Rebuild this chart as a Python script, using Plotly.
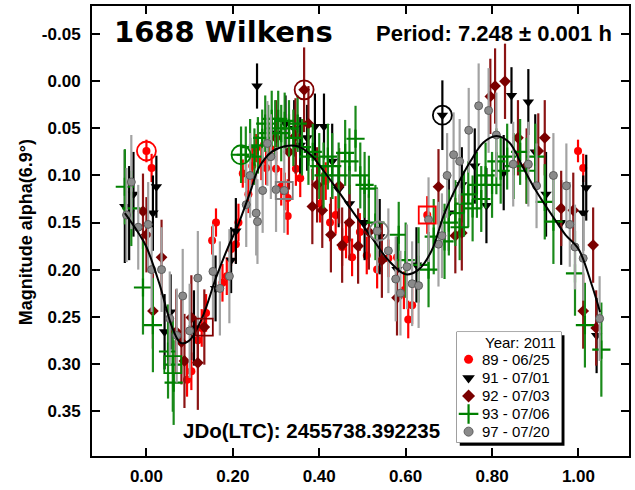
import plotly.graph_objects as go

# ---- lightcurve data: rotational phase, magnitude, 1-sigma error ----
red_phase = [0.000, 0.012, 0.094, 0.104, 0.119, 0.128, 0.138, 0.152, 0.161, 0.176, 0.186, 0.196,
             0.207, 0.213, 0.223, 0.236, 0.245, 0.254, 0.266, 0.277, 0.288, 0.300, 0.312, 0.320,
             0.327, 0.327, 0.346, 0.356, 0.402, 0.415, 0.425, 0.438, 0.453, 0.462, 0.476, 0.494,
             0.510, 0.534, 0.560, 0.580, 0.596, 0.606, 0.615, 0.650, 0.999, 1.011]
red_mag = [0.074, 0.092, 0.317, 0.308, 0.275, 0.262, 0.246, 0.169, 0.150, 0.214, 0.207, 0.178,
           0.173, 0.150, 0.098, 0.120, 0.090, 0.071, 0.085, 0.092, 0.072, 0.093, 0.112, 0.117,
           0.124, 0.143, 0.093, 0.103, 0.130, 0.106, 0.150, 0.142, 0.176, 0.168, 0.187, 0.160,
           0.185, 0.200, 0.188, 0.187, 0.222, 0.253, 0.238, 0.142, 0.074, 0.092]
red_err = [0.012, 0.015, 0.018, 0.020, 0.022, 0.020, 0.020, 0.015, 0.015, 0.020, 0.020, 0.018,
           0.020, 0.020, 0.015, 0.020, 0.020, 0.015, 0.020, 0.018, 0.020, 0.018, 0.020, 0.020,
           0.020, 0.020, 0.018, 0.020, 0.020, 0.020, 0.020, 0.020, 0.020, 0.020, 0.020, 0.020,
           0.020, 0.020, 0.020, 0.020, 0.020, 0.020, 0.020, 0.020, 0.012, 0.015]

black_phase = [-0.050, -0.040, -0.030, 0.015, 0.023, 0.042, 0.056, 0.110, 0.160, 0.196, 0.207,
               0.256, 0.300, 0.322, 0.342, 0.356, 0.372, 0.390, 0.411, 0.430, 0.445, 0.470,
               0.505, 0.540, 0.580, 0.625, 0.685, 0.700, 0.730, 0.760, 0.787, 0.827, 0.845,
               0.884, 0.900, 0.925, 0.960, 1.011, 1.018, 1.042]
black_mag = [0.133, 0.140, 0.120, 0.140, 0.112, 0.266, 0.245, 0.262, 0.220, 0.190, 0.159,
             0.005, 0.055, 0.045, 0.050, 0.068, 0.060, 0.048, 0.048, 0.085, 0.115, 0.130,
             0.150, 0.165, 0.200, 0.195, 0.036, 0.140, 0.110, 0.090, 0.132, 0.097, 0.015,
             0.022, 0.075, 0.120, 0.150, 0.140, 0.113, 0.270]
black_err = [0.060, 0.050, 0.045, 0.040, 0.033, 0.040, 0.040, 0.040, 0.035, 0.035, 0.035,
             0.024, 0.030, 0.030, 0.030, 0.030, 0.035, 0.035, 0.035, 0.040, 0.040, 0.040,
             0.040, 0.040, 0.035, 0.040, 0.037, 0.040, 0.040, 0.040, 0.040, 0.040, 0.030,
             0.035, 0.040, 0.045, 0.045, 0.040, 0.035, 0.040]

dred_phase = [-0.008, 0.000, 0.015, 0.035, 0.069, 0.081, 0.088, 0.104, 0.119, 0.134, 0.300,
              0.330, 0.345, 0.365, 0.375, 0.384, 0.395, 0.407, 0.427, 0.446, 0.453, 0.470,
              0.490, 0.515, 0.545, 0.580, 0.676, 0.715, 0.730, 0.796, 0.807, 0.830, 0.860,
              0.880, 0.907, 0.922, 0.960, 0.988, 1.011, 1.034, 1.041]
dred_mag = [0.138, 0.163, 0.244, 0.187, 0.266, 0.277, 0.297, 0.251, 0.299, 0.261, 0.060,
            0.075, 0.058, 0.009, 0.045, 0.133, 0.110, 0.137, 0.163, 0.111, 0.174, 0.150,
            0.175, 0.160, 0.190, 0.230, 0.112, 0.164, 0.161, 0.016, 0.005, 0.000, 0.060,
            0.090, 0.074, 0.060, 0.135, 0.137, 0.244, 0.174, 0.262]
dred_err = [0.040, 0.040, 0.040, 0.040, 0.045, 0.045, 0.050, 0.045, 0.050, 0.040, 0.040,
            0.040, 0.040, 0.045, 0.040, 0.040, 0.040, 0.040, 0.040, 0.040, 0.040, 0.040,
            0.040, 0.040, 0.040, 0.040, 0.040, 0.040, 0.040, 0.040, 0.040, 0.040, 0.040,
            0.040, 0.040, 0.040, 0.040, 0.040, 0.040, 0.040, 0.040]

green_phase = [-0.050, -0.035, -0.008, 0.015, 0.050, 0.061, 0.063, 0.219, 0.230, 0.240, 0.250,
               0.258, 0.268, 0.275, 0.282, 0.290, 0.298, 0.305, 0.312, 0.320, 0.330, 0.340,
               0.350, 0.360, 0.375, 0.385, 0.400, 0.410, 0.420, 0.430, 0.445, 0.460, 0.470,
               0.484, 0.495, 0.505, 0.515, 0.530, 0.584, 0.600, 0.630, 0.653, 0.665, 0.690,
               0.700, 0.715, 0.725, 0.735, 0.745, 0.755, 0.765, 0.775, 0.785, 0.800, 0.810,
               0.820, 0.835, 0.850, 0.865, 0.880, 0.900, 0.922, 0.942, 0.992, 1.015, 1.053]
green_mag = [0.112, 0.135, 0.219, 0.259, 0.287, 0.301, 0.320, 0.078, 0.078, 0.070, 0.080,
             0.068, 0.060, 0.045, 0.055, 0.040, 0.050, 0.040, 0.055, 0.042, 0.050, 0.060,
             0.045, 0.070, 0.080, 0.075, 0.090, 0.100, 0.080, 0.090, 0.100, 0.076, 0.085,
             0.061, 0.100, 0.110, 0.114, 0.150, 0.163, 0.190, 0.195, 0.200, 0.165, 0.170,
             0.150, 0.140, 0.155, 0.130, 0.120, 0.135, 0.110, 0.125, 0.100, 0.110, 0.085,
             0.095, 0.080, 0.090, 0.075, 0.095, 0.080, 0.128, 0.149, 0.204, 0.259, 0.285]
green_err = [0.040, 0.040, 0.050, 0.050, 0.050, 0.050, 0.045, 0.030, 0.030, 0.030, 0.030,
             0.030, 0.030, 0.030, 0.030, 0.030, 0.030, 0.030, 0.030, 0.030, 0.030, 0.030,
             0.030, 0.030, 0.030, 0.030, 0.035, 0.035, 0.035, 0.035, 0.035, 0.035, 0.035,
             0.035, 0.035, 0.035, 0.035, 0.040, 0.035, 0.040, 0.040, 0.040, 0.040, 0.040,
             0.035, 0.035, 0.035, 0.035, 0.035, 0.035, 0.035, 0.035, 0.035, 0.035, 0.035,
             0.035, 0.035, 0.035, 0.035, 0.035, 0.035, 0.040, 0.045, 0.045, 0.045, 0.050]

gray_phase = [-0.046, -0.035, -0.019, 0.004, 0.012, 0.035, 0.054, 0.070, 0.084, 0.100, 0.119,
              0.154, 0.170, 0.192, 0.231, 0.240, 0.254, 0.257, 0.269, 0.280, 0.288, 0.300,
              0.319, 0.534, 0.560, 0.577, 0.588, 0.603, 0.615, 0.630, 0.653, 0.676, 0.684,
              0.696, 0.711, 0.725, 0.746, 0.769, 0.792, 0.810, 0.849, 0.884, 0.903, 0.942,
              0.972, 0.980, 0.992, 1.011, 1.049]
gray_mag = [0.142, 0.107, 0.155, 0.152, 0.200, 0.200, 0.252, 0.270, 0.228, 0.265, 0.209,
            0.202, 0.220, 0.207, 0.131, 0.100, 0.140, 0.149, 0.116, 0.066, 0.080, 0.115,
            0.116, 0.159, 0.180, 0.210, 0.225, 0.197, 0.215, 0.217, 0.147, 0.173, 0.164,
            0.100, 0.078, 0.085, 0.052, 0.026, 0.031, 0.057, 0.088, 0.088, 0.111, 0.100,
            0.111, 0.152, 0.176, 0.188, 0.252]
gray_err = [0.050, 0.050, 0.045, 0.045, 0.045, 0.045, 0.050, 0.050, 0.050, 0.050, 0.050,
            0.050, 0.050, 0.050, 0.045, 0.045, 0.045, 0.045, 0.045, 0.045, 0.045, 0.045,
            0.045, 0.045, 0.045, 0.045, 0.045, 0.045, 0.045, 0.045, 0.045, 0.045, 0.045,
            0.045, 0.045, 0.045, 0.045, 0.045, 0.045, 0.045, 0.045, 0.045, 0.045, 0.045,
            0.045, 0.045, 0.045, 0.045, 0.045]

# Fourier fit to the combined lightcurve
fit_phase = [-0.05, -0.02, 0.00, 0.03, 0.06, 0.08, 0.10, 0.13, 0.16, 0.19, 0.21, 0.24, 0.26,
             0.29, 0.32, 0.35, 0.38, 0.41, 0.44, 0.48, 0.52, 0.56, 0.60, 0.63, 0.66, 0.69,
             0.72, 0.75, 0.78, 0.81, 0.84, 0.87, 0.90, 0.95, 0.97, 1.00, 1.03, 1.05]
fit_mag = [0.140, 0.160, 0.176, 0.215, 0.262, 0.278, 0.275, 0.250, 0.210, 0.175, 0.155, 0.118,
           0.092, 0.075, 0.069, 0.069, 0.078, 0.095, 0.114, 0.140, 0.165, 0.190, 0.205, 0.200,
           0.180, 0.140, 0.110, 0.085, 0.065, 0.058, 0.065, 0.090, 0.115, 0.150, 0.163, 0.178,
           0.215, 0.245]

# first point of each session (circle) and reference points (square)
ring_phase = [0.000, 0.365, 0.685, 0.219, 0.538]
ring_mag = [0.074, 0.009, 0.036, 0.078, 0.159]
ring_color = ["#ff0000", "#800000", "#000000", "#008000", "#808080"]
box_phase = [0.319, 0.650, 0.061, 0.134]
box_mag = [0.116, 0.142, 0.301, 0.261]
box_color = ["#808080", "#ff0000", "#008000", "#800000"]

legend_title = "Year: 2011"
series_names = ["89 - 06/25", "91 - 07/01", "92 - 07/03", "93 - 07/06", "97 - 07/20"]

x_ticks = [0.0, 0.2, 0.4, 0.6, 0.8, 1.0]
x_tick_text = ["0.00", "0.20", "0.40", "0.60", "0.80", "1.00"]
y_ticks = [-0.05, 0.0, 0.05, 0.10, 0.15, 0.20, 0.25, 0.30, 0.35]
y_tick_text = ["-0.05", "0.00", "0.05", "0.10", "0.15", "0.20", "0.25", "0.30", "0.35"]

FONT = "Liberation Sans, Arial, sans-serif"

# marker style per session: symbol, size, fill, error-bar colour, outline
styles = [
    dict(symbol="circle", size=8, color="#ff0000", bar="#ff0000", line=None),
    dict(symbol="triangle-down", size=10, color="#000000", bar="#000000", line=None),
    dict(symbol="diamond", size=9, color="#7a0000", bar="#8b1414", line=None),
    dict(symbol="cross-thin", size=13, color="#008000", bar="#1a8a1a",
         line=dict(width=2.2, color="#008000")),
    dict(symbol="circle", size=8, color="#8a8a8a", bar="#a3a3a3",
         line=dict(width=1, color="#5e5e5e")),
]
sessions = [
    (red_phase, red_mag, red_err),
    (black_phase, black_mag, black_err),
    (dred_phase, dred_mag, dred_err),
    (green_phase, green_mag, green_err),
    (gray_phase, gray_mag, gray_err),
]

fig = go.Figure()

for name, (xs, ys, errs), st in zip(series_names, sessions, styles):
    marker = dict(symbol=st["symbol"], size=st["size"], color=st["color"])
    if st["line"]:
        marker["line"] = st["line"]
    fig.add_trace(go.Scatter(
        x=xs, y=ys, mode="markers", name=name, marker=marker,
        error_y=dict(type="data", array=errs, thickness=2.2, width=0, color=st["bar"]),
    ))

fig.add_trace(go.Scatter(
    x=fit_phase, y=fit_mag, mode="lines", line=dict(color="#000000", width=2, shape="spline"),
    hoverinfo="skip",
))

fig.add_trace(go.Scatter(
    x=ring_phase, y=ring_mag, mode="markers", hoverinfo="skip",
    marker=dict(symbol="circle-open", size=19, color=ring_color, line=dict(width=1.8)),
))
fig.add_trace(go.Scatter(
    x=box_phase, y=box_mag, mode="markers", hoverinfo="skip",
    marker=dict(symbol="square-open", size=17, color=box_color, line=dict(width=1.8)),
))

# ---- key box: its own small unit-square subplot ----
LEG_DOMAIN_X = [0.679, 0.874]
LEG_DOMAIN_Y = [0.0304, 0.2755]
row_y = [0.752, 0.584, 0.420, 0.257, 0.097]
sym_x, text_x = 0.114, 0.222

for i, st in enumerate(styles):
    marker = dict(symbol=st["symbol"], size=st["size"] + 1, color=st["color"])
    if st["line"]:
        marker["line"] = st["line"]
    fig.add_trace(go.Scatter(
        x=[sym_x], y=[row_y[i]], xaxis="x2", yaxis="y2", mode="markers",
        marker=marker, hoverinfo="skip",
    ))
    fig.add_annotation(text=series_names[i], xref="x2", yref="y2", x=text_x, y=row_y[i],
                       xanchor="left", yanchor="middle", showarrow=False,
                       font=dict(family=FONT, size=15, color="#000000"))
fig.add_annotation(text=legend_title, xref="x2", yref="y2", x=0.965, y=0.905,
                   xanchor="right", yanchor="middle", showarrow=False,
                   font=dict(family=FONT, size=15, color="#000000"))

# drop shadow then white box
fig.add_shape(type="rect", xref="x2 domain", yref="y2 domain", x0=0.03, x1=1.03, y0=-0.03, y1=0.97,
              fillcolor="#000000", line=dict(width=0), layer="below")
fig.add_shape(type="rect", xref="x2 domain", yref="y2 domain", x0=0, x1=1, y0=0, y1=1,
              fillcolor="#ffffff", line=dict(width=1, color="#555555"), layer="below")

axis_common = dict(
    showline=True, linewidth=2, linecolor="#000000", mirror="ticks",
    ticks="inside", ticklen=8, tickwidth=1.5, tickcolor="#000000",
    showgrid=False, zeroline=False,
    tickfont=dict(family=FONT, size=17, color="#000000", weight="bold"),
)

fig.update_layout(
    xaxis=dict(range=[-0.126, 1.117], tickvals=x_ticks, ticktext=x_tick_text,
               ticklabelstandoff=4, **axis_common),
    yaxis=dict(range=[0.398, -0.080], tickvals=y_ticks, ticktext=y_tick_text,
               ticklabelstandoff=6, **axis_common),
    xaxis2=dict(domain=LEG_DOMAIN_X, range=[0, 1], visible=False, anchor="y2", fixedrange=True),
    yaxis2=dict(domain=LEG_DOMAIN_Y, range=[0, 1], visible=False, anchor="x2", fixedrange=True),
)

fig.add_annotation(text="1688 Wilkens", xref="paper", yref="paper", x=0.037, y=0.942,
                   xanchor="left", yanchor="middle", showarrow=False,
                   font=dict(family="DejaVu Sans", size=29, color="#000000", weight="bold"))
fig.add_annotation(text="Period: 7.248 ± 0.001 h", xref="paper", yref="paper", x=0.972, y=0.940,
                   xanchor="right", yanchor="middle", showarrow=False,
                   font=dict(family=FONT, size=22, color="#000000", weight="bold"))
fig.add_annotation(text="JDo(LTC): 2455738.392235", xref="paper", yref="paper", x=0.166, y=0.056,
                   xanchor="left", yanchor="middle", showarrow=False,
                   font=dict(family=FONT, size=20.5, color="#000000", weight="bold"))
fig.add_annotation(text="Magnitude alpha(6.9°)", xref="paper", yref="paper", x=-0.124, y=0.498,
                   xanchor="center", yanchor="middle", showarrow=False, textangle=-90,
                   font=dict(family=FONT, size=18, color="#000000", weight="bold"))

fig.update_layout(
    width=635, height=490,
    margin=dict(l=92, r=4, t=6, b=23),
    plot_bgcolor="#ffffff", paper_bgcolor="#ffffff",
    showlegend=False,
)

fig.write_html("out.html")
